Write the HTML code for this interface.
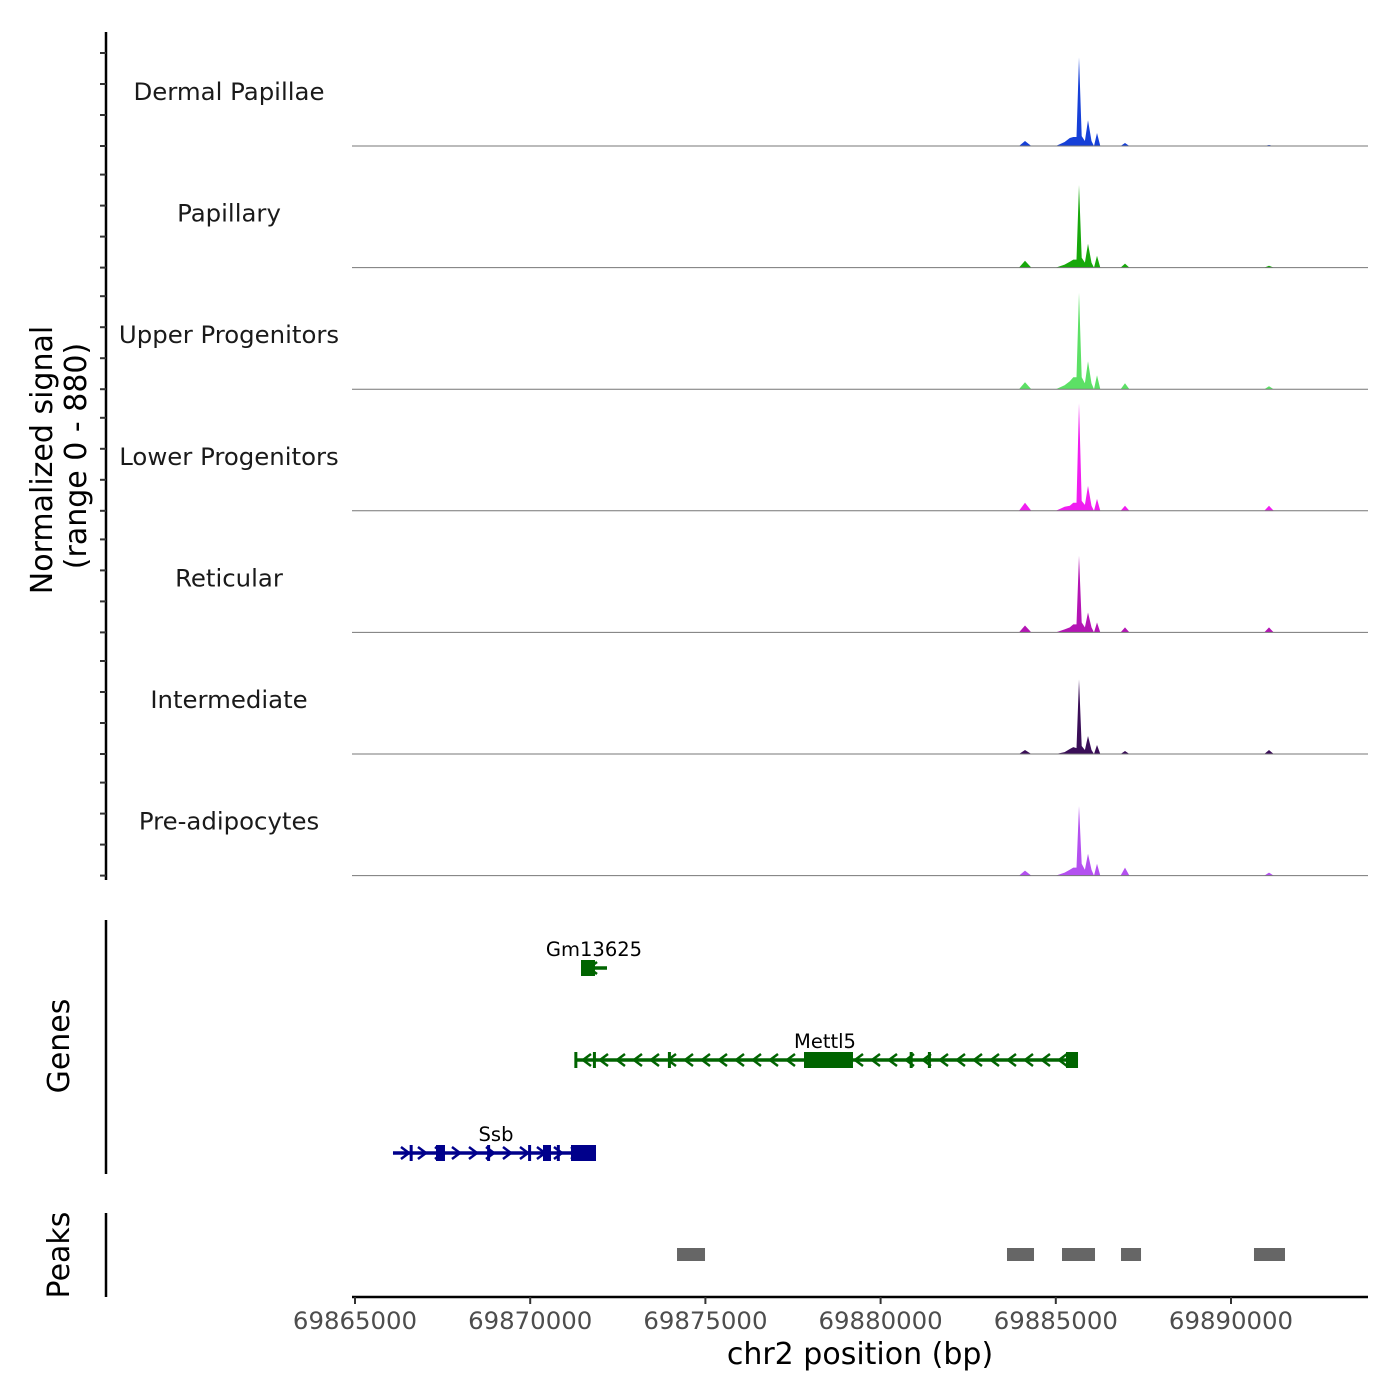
<!DOCTYPE html>
<html><head><meta charset="utf-8"><style>
html,body{margin:0;padding:0;background:#fff}
svg{display:block;font-family:"DejaVu Sans","Liberation Sans",sans-serif}
</style></head><body>
<svg id="chart" width="1400" height="1400" viewBox="0 0 1400 1400">
<g id="cov"></g>
<g id="genes"></g>
<g id="peaks"></g>
<g id="axes"></g>
</svg>
<script>
const trackNames = ["Dermal Papillae","Papillary","Upper Progenitors","Lower Progenitors","Reticular","Intermediate","Pre-adipocytes"];
const trackColors = ["#1640d8","#17a80b","#5ce065","#f01ef0","#b414b4","#3a0e58","#b450f0"];
const positions = [69883950,69884121,69884300,69885000,69885250,69885400,69885500,69885590,69885662,69885740,69885830,69885920,69886020,69886090,69886175,69886270,69886850,69886975,69887100,69890950,69891085,69891220];
const sigDermal = [0,36,0,0,29,58,65,65,641,72,36,187,36,0,94,0,0,22,0,0,7,0];
const sigPapillary = [0,50,0,0,22,43,58,58,598,72,36,173,36,0,86,0,0,29,0,0,14,0];
const sigUpper = [0,50,0,0,29,58,86,86,698,86,43,202,43,0,101,0,0,43,0,0,22,0];
const sigLower = [0,58,0,0,29,36,58,58,778,72,43,180,36,0,86,0,0,36,0,0,36,0];
const sigReticular = [0,50,0,0,22,36,58,58,554,72,36,144,36,0,72,0,0,36,0,0,36,0];
const sigIntermediate = [0,29,0,0,14,36,50,43,540,58,29,130,29,0,65,0,0,22,0,0,29,0];
const sigPreadipo = [0,36,0,0,22,43,58,58,504,86,43,158,43,0,86,0,0,58,0,0,22,0];
const signals = [sigDermal,sigPapillary,sigUpper,sigLower,sigReticular,sigIntermediate,sigPreadipo];
const yMax = 880;
const xTicks = [69865000,69870000,69875000,69880000,69885000,69890000];
const peakStarts = [69874190,69883607,69885177,69886861,69890656];
const peakEnds = [69874989,69884378,69886119,69887432,69891541];
const geneNames = ["Gm13625","Mettl5","Ssb"];
const geneStarts = [69871450,69871278,69866084];
const geneEnds = [69872192,69885634,69871878];
const geneStrand = [-1,-1,1];
const exonStarts = [[69871450],[69871260,69871790,69873930,69877814,69880830,69881350,69885291],[69866560,69867312,69868770,69869940,69870365,69870760,69871164]];
const exonEnds = [[69871849],[69871320,69871850,69873990,69879212,69880910,69881420,69885634],[69866640,69867568,69868830,69869995,69870594,69870830,69871878]];

const NS="http://www.w3.org/2000/svg";
const X0=69865000, PX0=355, K=0.03504;
function xs(bp){return PX0+(bp-X0)*K;}
const trackH=121.6, base0=146;
function mk(tag,attrs,parent){const e=document.createElementNS(NS,tag);for(const k in attrs)e.setAttribute(k,attrs[k]);parent.appendChild(e);return e;}
const cov=document.getElementById('cov');
signals.forEach((s,i)=>{
  const b=base0+i*trackH;
  const ys=v=>b-v/yMax*trackH;
  let pts=`${xs(positions[0])},${b} `;
  positions.forEach((p,j)=>{pts+=`${xs(p).toFixed(1)},${ys(s[j]).toFixed(1)} `;});
  pts+=`${xs(positions[positions.length-1])},${b}`;
  const poly=mk('polygon',{points:pts,fill:trackColors[i]},cov);
  
  
  const ln=mk('line',{x1:352,x2:1368,y1:b,y2:b,stroke:'#777','stroke-width':1},cov);
  
  
  const t=mk('text',{x:229,y:b-46,'text-anchor':'middle','font-size':24.4,fill:'#1a1a1a'},cov);
  t.textContent=trackNames[i];
  
  
});
const axes=document.getElementById('axes');
mk('line',{x1:106,x2:106,y1:32,y2:880,stroke:'#000','stroke-width':2.5},axes);
for(let i=0;i<7;i++){const b=base0+i*trackH;for(let k=0;k<4;k++){const y=b-k*31;mk('line',{x1:100,x2:106,y1:y,y2:y,stroke:'#333','stroke-width':2},axes);}}
const yt=mk('text',{transform:'translate(52,460) rotate(-90)','text-anchor':'middle','font-size':30,fill:'#000'},axes);
yt.textContent='Normalized signal';


const yt2=mk('text',{transform:'translate(86,456) rotate(-90)','text-anchor':'middle','font-size':30,fill:'#000'},axes);
yt2.textContent='(range 0 - 880)';


// genes
const gg=document.getElementById('genes');
mk('line',{x1:106,x2:106,y1:920,y2:1174,stroke:'#000','stroke-width':2.5},gg);
const gl=mk('text',{transform:'translate(69,1046) rotate(-90)','text-anchor':'middle','font-size':30},gg);gl.textContent='Genes';
const geneY=[968,1060,1153], geneCol=["#006400","#006400","#00008b"];
const labelX=[594,825,496];
geneNames.forEach((n,i)=>{
  const y=geneY[i],c=geneCol[i];
  const g=mk('g',{},gg);
  
  
  const x1=xs(geneStarts[i]),x2=xs(geneEnds[i]);
  mk('line',{x1:x1,x2:x2,y1:y,y2:y,stroke:c,'stroke-width':3.5},g);
  for(let ax=x1+12;ax<x2-6;ax+=17){const d=-geneStrand[i]*4;mk('polyline',{points:`${ax+d},${y-6} ${ax-d},${y} ${ax+d},${y+6}`,fill:'none',stroke:c,'stroke-width':2.5},g);}
  exonStarts[i].forEach((s,j)=>{const a=xs(s),b=xs(exonEnds[i][j]);mk('rect',{x:a,y:y-8,width:Math.max(b-a,3),height:16,fill:c},g);});
  const t=mk('text',{x:labelX[i],y:y-12,'text-anchor':'middle','font-size':19.5,fill:'#000'},g);t.textContent=n;
});
// peaks
const pg=document.getElementById('peaks');
mk('line',{x1:106,x2:106,y1:1213,y2:1297,stroke:'#000','stroke-width':2.5},pg);
const pl=mk('text',{transform:'translate(69,1255) rotate(-90)','text-anchor':'middle','font-size':30},pg);pl.textContent='Peaks';
peakStarts.forEach((s,i)=>{
  const r=mk('rect',{x:xs(s),y:1248,width:xs(peakEnds[i])-xs(s),height:13,fill:'#666'},pg);
  
  
});
// x axis
mk('line',{x1:352,x2:1368,y1:1297,y2:1297,stroke:'#000','stroke-width':2.5},axes);
xTicks.forEach(v=>{
  const x=xs(v);
  mk('line',{x1:x,x2:x,y1:1297,y2:1304,stroke:'#333','stroke-width':2},axes);
  const t=mk('text',{x:x,y:1329,'text-anchor':'middle','font-size':24.4,fill:'#4d4d4d'},axes);
  t.textContent=v;
  
  
});
const xt=mk('text',{x:860,y:1364,'text-anchor':'middle','font-size':30,fill:'#000'},axes);
xt.textContent='chr2 position (bp)';


</script>
</body></html>
